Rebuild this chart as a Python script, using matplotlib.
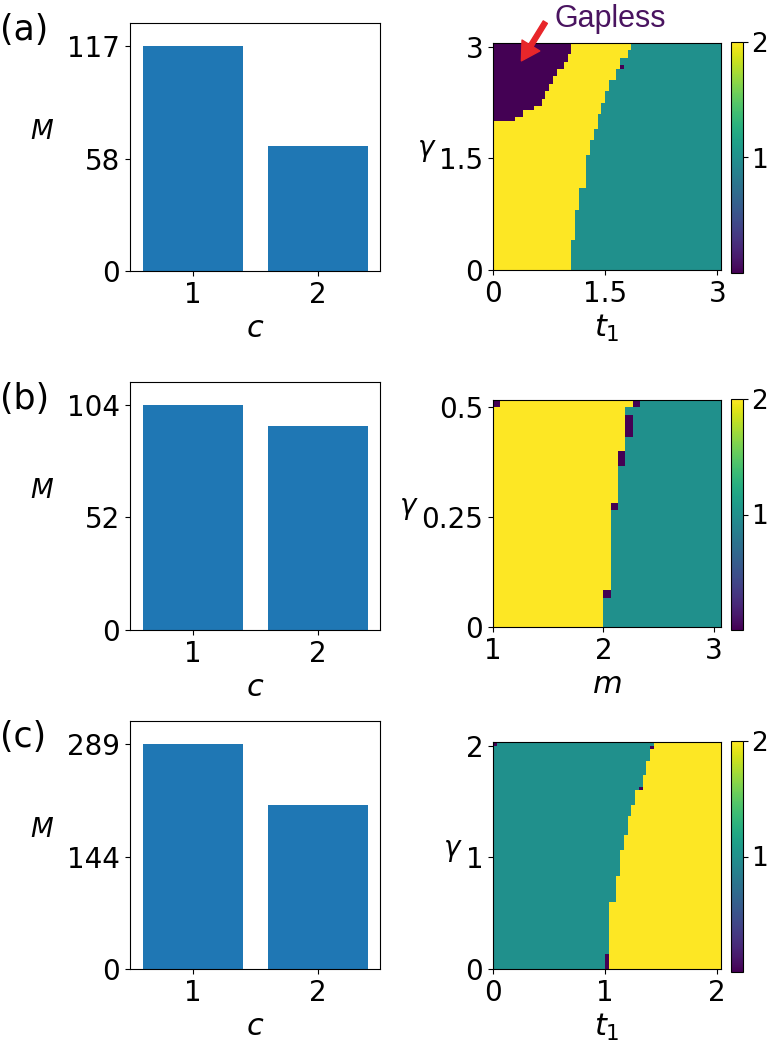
import numpy as np
import matplotlib.pyplot as plt

plt.rcParams['font.size'] = 20
plt.rcParams['mathtext.fontset'] = 'dejavusans'

# bar charts: M vs c
c_vals = [1, 2]
m_a = [117, 65]
m_b = [104, 94]
m_c = [289, 210]

# heatmap (a): t1 vs gamma, grid step 0.05
a_x0, a_step, a_n = 0.0, 0.05, 61
a_y0, a_ystep, a_ny = 0.0, 0.05, 61
a_edge_y = [0.0, 0.39, 0.82, 1.10, 1.37, 1.55, 1.73, 1.91, 2.09, 2.27, 2.40, 2.53, 2.69, 2.84, 2.95]
a_edge_x = [1.03, 1.09, 1.16, 1.23, 1.27, 1.32, 1.36, 1.41, 1.45, 1.51, 1.57, 1.63, 1.70, 1.79, 1.85]
a_gap_y = [0.0, 2.02, 2.07, 2.13, 2.22, 2.31, 2.42, 2.51, 2.62, 2.69, 2.80, 2.89, 3.0]
a_gap_x = [0.0, 0.29, 0.42, 0.54, 0.64, 0.70, 0.74, 0.81, 0.87, 0.93, 1.0, 1.03, 1.07]
a_spots = [(1.70, 2.72)]

# heatmap (b): m vs gamma
b_x0, b_step, b_n = 1.0, 2 / 30, 31
b_y0, b_ystep, b_ny = 0.0, 0.5 / 30, 31
b_edge_y = [0.0, 0.075, 0.283, 0.40, 0.5]
b_edge_x = [1.98, 2.05, 2.12, 2.18, 2.25]
b_spots = [(1.0, 0.5), (2.25, 0.5), (2.18, 0.434), (2.18, 0.45), (2.18, 0.467),
           (2.12, 0.367), (2.12, 0.383), (2.05, 0.267), (1.98, 0.067)]

# heatmap (c): t1 vs gamma
c_x0, c_step, c_n = 0.0, 2 / 60, 61
c_y0, c_ystep, c_ny = 0.0, 2 / 60, 61
c_edge_y = [0.0, 0.60, 0.84, 1.05, 1.19, 1.35, 1.48, 1.60, 1.75, 1.87, 1.97]
c_edge_x = [1.036, 1.086, 1.125, 1.16, 1.20, 1.24, 1.28, 1.32, 1.36, 1.39, 1.43]
c_spots = [(1.0, 0.0), (1.0, 0.033), (1.0, 0.067), (1.0, 0.1), (1.30, 1.60),
           (1.40, 1.967), (0.0, 2.0)]


def step_lookup(yv, ys, xs, half):
    k = 0
    for i, y in enumerate(ys):
        if yv + half >= y:
            k = i
    return xs[k]


def build_map(x0, dx, nx, y0, dy, ny, edge_y, edge_x, left_val, right_val,
              spots, gap_y=None, gap_x=None):
    grid = np.zeros((ny, nx))
    for j in range(ny):
        yv = y0 + j * dy
        b = step_lookup(yv, edge_y, edge_x, dy / 2)
        g = step_lookup(yv, gap_y, gap_x, dy / 2) if gap_y else -1
        for i in range(nx):
            xv = x0 + i * dx
            if xv + dx / 2 < g:
                grid[j, i] = 0
            elif xv + dx / 2 < b:
                grid[j, i] = left_val
            else:
                grid[j, i] = right_val
    for sx, sy in spots:
        grid[int(round((sy - y0) / dy)), int(round((sx - x0) / dx))] = 0
    ext = [x0, x0 + nx * dx, y0, y0 + ny * dy]
    return grid, ext


map_a = build_map(a_x0, a_step, a_n, a_y0, a_ystep, a_ny, a_edge_y, a_edge_x, 2, 1,
                  a_spots, a_gap_y, a_gap_x)
map_b = build_map(b_x0, b_step, b_n, b_y0, b_ystep, b_ny, b_edge_y, b_edge_x, 2, 1, b_spots)
map_c = build_map(c_x0, c_step, c_n, c_y0, c_ystep, c_ny, c_edge_y, c_edge_x, 1, 2, c_spots)

rows = [
    ('(a)', m_a, map_a, [0, 1.5, 3], ['0', '1.5', '3'], [0, 1.5, 3], ['0', '1.5', '3'], '$t_1$'),
    ('(b)', m_b, map_b, [1, 2, 3], ['1', '2', '3'], [0, 0.25, 0.5], ['0', '0.25', '0.5'], '$m$'),
    ('(c)', m_c, map_c, [0, 1, 2], ['0', '1', '2'], [0, 1, 2], ['0', '1', '2'], '$t_1$'),
]

W, H = 768, 1045
fig = plt.figure(figsize=(W / 100, H / 100), dpi=100)

bar_tops = [23, 382, 721]
heat_tops = [43, 400, 742]
label_y = [30, 399, 737]

for r, (tag, mv, (grid, ext), xt, xtl, yt, ytl, xlab) in enumerate(rows):
    # bar panel
    axb = fig.add_axes([130 / W, 1 - (bar_tops[r] + 248) / H, 250 / W, 248 / H])
    axb.bar(c_vals, mv, width=0.8, color='#1f77b4')
    top = mv[0]
    axb.set_ylim(0, 1.1 * top)
    axb.set_xlim(0.5, 2.5)
    axb.set_yticks([0, top // 2, top])
    axb.set_xticks(c_vals)
    axb.set_xlabel('$c$', fontsize=22)
    axb.set_ylabel('$M$', rotation=0, fontsize=19, ha='center', va='center')
    axb.yaxis.set_label_coords(-0.352, 0.56)

    # heatmap panel
    axh = fig.add_axes([493 / W, 1 - (heat_tops[r] + 227) / H, 228 / W, 227 / H])
    im = axh.imshow(grid, origin='lower', extent=ext, aspect='auto',
                    cmap='viridis', vmin=0, vmax=2, interpolation='nearest')
    axh.set_xticks(xt)
    axh.set_xticklabels(xtl)
    axh.set_yticks(yt)
    axh.set_yticklabels(ytl)
    axh.set_xlabel(xlab, fontsize=22)
    axh.set_ylabel(r'$\gamma$', rotation=0, fontsize=20, va='baseline', labelpad=9)

    cax = fig.add_axes([731 / W, 1 - (heat_tops[r] + 230) / H, 12 / W, 231 / H])
    cb = fig.colorbar(im, cax=cax)
    cb.set_ticks([1, 2])
    cb.set_ticklabels(['1', '2'])
    cax.tick_params(labelsize=19, pad=2)

    fig.text(0.0, 1 - label_y[r] / H, tag, fontsize=25, va='center', ha='left')

    if r == 0:
        axh.annotate('', xy=(0.38, 2.81), xytext=(0.70, 3.33), annotation_clip=False,
                     arrowprops=dict(facecolor='#e8262a', edgecolor='#e8262a',
                                     width=3.5, headwidth=15, headlength=13, shrink=0))
        axh.text(1.57, 3.37, 'Gapless', color='#4a1460', fontsize=22,
                 family='Liberation Sans', ha='center', va='center', clip_on=False)

fig.savefig('out.png', dpi=100)
